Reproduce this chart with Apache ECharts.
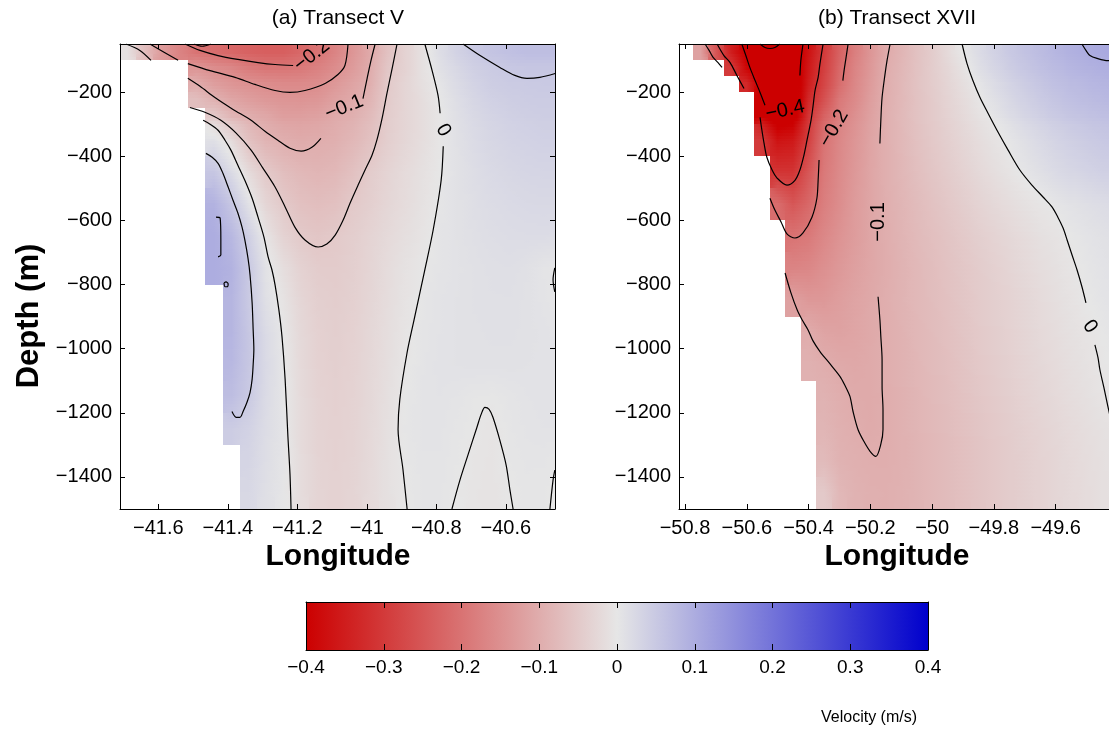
<!DOCTYPE html>
<html><head><meta charset="utf-8">
<script src="https://cdn.jsdelivr.net/npm/echarts@6/dist/echarts.min.js"></script>
<style>html,body{margin:0;padding:0;background:#fff}#c{width:1109px;height:731px}</style>
</head><body><div id="c"></div>
<script>
// ---------------- data ----------------
const titleA = '(a) Transect V';
const titleB = '(b) Transect XVII';
const xName = 'Longitude';
const yName = 'Depth (m)';
const cbName = 'Velocity (m/s)';

const lonTicksA = [-41.6, -41.4, -41.2, -41, -40.8, -40.6];
const lonTicksB = [-50.8, -50.6, -50.4, -50.2, -50, -49.8, -49.6];
const depthTicks = [-1400, -1200, -1000, -800, -600, -400, -200];
const colorTicks = [-0.4, -0.3, -0.2, -0.1, 0, 0.1, 0.2, 0.3, 0.4];

// grid cell centres (longitude) and depth bin edges
const lonA = [-41.69,-41.64,-41.59,-41.54,-41.49,-41.44,-41.39,-41.34,-41.29,-41.24,-41.19,-41.14,-41.09,-41.04,-40.99,-40.94,-40.89,-40.84,-40.79,-40.74,-40.69,-40.64,-40.59,-40.54,-40.49,-40.44];
const lonB = [-50.80,-50.75,-50.70,-50.65,-50.60,-50.55,-50.50,-50.45,-50.40,-50.35,-50.30,-50.25,-50.20,-50.15,-50.10,-50.05,-50.00,-49.95,-49.90,-49.85,-49.80,-49.75,-49.70,-49.65,-49.60,-49.55,-49.50,-49.45,-49.40];
const depthEdges = [-50,-100,-150,-200,-250,-300,-400,-500,-600,-700,-800,-900,-1000,-1100,-1200,-1300,-1400,-1500];

// velocity (m/s), one row per depth bin, null = no data
const velA = [
 [-0.01,-0.07,-0.13,-0.17,-0.2,-0.21,-0.22,-0.23,-0.235,-0.235,-0.22,-0.2,-0.17,-0.14,-0.105,-0.065,-0.035,-0.01,0.015,0.035,0.05,0.06,0.065,0.07,0.07,0.07],
 [null,null,null,null,-0.14,-0.155,-0.165,-0.185,-0.195,-0.195,-0.19,-0.175,-0.155,-0.13,-0.1,-0.055,-0.035,-0.01,0.01,0.025,0.04,0.047,0.053,0.055,0.055,0.055],
 [null,null,null,null,-0.1,-0.125,-0.14,-0.148,-0.155,-0.16,-0.16,-0.155,-0.135,-0.115,-0.095,-0.05,-0.03,-0.012,0.003,0.02,0.033,0.043,0.047,0.048,0.05,0.05],
 [null,null,null,null,-0.07,-0.09,-0.112,-0.125,-0.135,-0.14,-0.142,-0.138,-0.12,-0.105,-0.085,-0.048,-0.03,-0.015,0.0,0.015,0.028,0.037,0.042,0.045,0.046,0.046],
 [null,null,null,null,null,-0.05,-0.085,-0.098,-0.11,-0.125,-0.125,-0.12,-0.105,-0.095,-0.075,-0.045,-0.03,-0.015,-0.002,0.012,0.024,0.032,0.038,0.041,0.043,0.043],
 [null,null,null,null,null,0.01,-0.02,-0.064,-0.088,-0.097,-0.103,-0.1,-0.095,-0.082,-0.064,-0.042,-0.028,-0.015,-0.002,0.01,0.02,0.027,0.032,0.035,0.037,0.037],
 [null,null,null,null,null,0.055,0.02,-0.02,-0.05,-0.07,-0.08,-0.085,-0.08,-0.065,-0.045,-0.032,-0.02,-0.01,0.0,0.008,0.016,0.022,0.026,0.029,0.03,0.03],
 [null,null,null,null,null,0.09,0.055,0.01,-0.03,-0.05,-0.065,-0.07,-0.065,-0.05,-0.04,-0.028,-0.018,-0.008,0.002,0.008,0.014,0.018,0.021,0.023,0.024,0.024],
 [null,null,null,null,null,0.1,0.08,0.04,-0.005,-0.035,-0.05,-0.056,-0.05,-0.042,-0.032,-0.022,-0.013,-0.005,0.004,0.008,0.012,0.015,0.017,0.018,0.018,0.017],
 [null,null,null,null,null,0.1,0.09,0.052,0.008,-0.015,-0.035,-0.045,-0.046,-0.04,-0.03,-0.018,-0.008,-0.001,0.004,0.007,0.01,0.012,0.013,0.01,0.004,0.001],
 [null,null,null,null,null,null,0.085,0.05,0.012,-0.006,-0.028,-0.04,-0.043,-0.038,-0.028,-0.017,-0.006,0.002,0.006,0.008,0.01,0.011,0.011,0.009,0.005,0.002],
 [null,null,null,null,null,null,0.085,0.055,0.02,0.0,-0.024,-0.037,-0.041,-0.036,-0.026,-0.015,-0.004,0.003,0.006,0.008,0.009,0.01,0.01,0.009,0.007,0.005],
 [null,null,null,null,null,null,0.08,0.055,0.022,0.002,-0.022,-0.036,-0.04,-0.035,-0.025,-0.014,-0.002,0.004,0.007,0.008,0.009,0.009,0.009,0.008,0.007,0.006],
 [null,null,null,null,null,null,0.07,0.05,0.02,0.002,-0.02,-0.034,-0.038,-0.034,-0.024,-0.012,0.0,0.005,0.006,0.004,0.001,0.0,0.003,0.006,0.007,0.007],
 [null,null,null,null,null,null,0.045,0.035,0.017,0.003,-0.019,-0.033,-0.037,-0.033,-0.023,-0.011,0.001,0.005,0.005,0.002,-0.001,-0.004,0.002,0.005,0.006,0.006],
 [null,null,null,null,null,null,null,0.03,0.015,0.003,-0.018,-0.032,-0.036,-0.032,-0.022,-0.01,0.0,0.004,0.004,0.001,-0.003,-0.005,0.001,0.003,0.003,0.0],
 [null,null,null,null,null,null,null,0.025,0.012,0.002,-0.017,-0.031,-0.035,-0.031,-0.021,-0.01,-0.001,0.003,0.003,0.0,-0.004,-0.006,-0.001,0.002,0.001,-0.001]
];
const velB = [
 [null,-0.12,-0.25,-0.35,-0.41,-0.44,-0.47,-0.43,-0.37,-0.3,-0.23,-0.18,-0.14,-0.105,-0.085,-0.065,-0.045,-0.022,0.0,0.018,0.035,0.05,0.062,0.073,0.083,0.092,0.1,0.105,0.108],
 [null,null,null,-0.3,-0.39,-0.43,-0.45,-0.44,-0.36,-0.29,-0.22,-0.17,-0.135,-0.1,-0.082,-0.063,-0.045,-0.027,-0.007,0.012,0.028,0.043,0.055,0.066,0.075,0.083,0.09,0.095,0.097],
 [null,null,null,null,-0.33,-0.42,-0.46,-0.45,-0.35,-0.28,-0.21,-0.165,-0.13,-0.098,-0.08,-0.062,-0.046,-0.03,-0.014,0.002,0.018,0.032,0.045,0.056,0.066,0.074,0.08,0.085,0.088],
 [null,null,null,null,null,-0.4,-0.46,-0.46,-0.33,-0.26,-0.19,-0.16,-0.125,-0.097,-0.08,-0.063,-0.048,-0.033,-0.019,-0.004,0.011,0.025,0.037,0.048,0.058,0.066,0.072,0.077,0.08],
 [null,null,null,null,null,-0.4,-0.45,-0.44,-0.31,-0.23,-0.18,-0.15,-0.12,-0.095,-0.078,-0.062,-0.048,-0.035,-0.022,-0.008,0.003,0.017,0.029,0.04,0.049,0.057,0.063,0.067,0.07],
 [null,null,null,null,null,-0.3,-0.37,-0.36,-0.29,-0.2,-0.165,-0.14,-0.115,-0.095,-0.08,-0.065,-0.052,-0.04,-0.028,-0.017,-0.007,0.002,0.013,0.023,0.032,0.04,0.047,0.052,0.055],
 [null,null,null,null,null,null,-0.31,-0.31,-0.25,-0.19,-0.16,-0.135,-0.113,-0.095,-0.082,-0.069,-0.057,-0.046,-0.035,-0.024,-0.014,-0.005,0.003,0.012,0.02,0.027,0.033,0.038,0.04],
 [null,null,null,null,null,null,-0.21,-0.25,-0.22,-0.18,-0.155,-0.13,-0.112,-0.097,-0.085,-0.074,-0.063,-0.053,-0.043,-0.033,-0.024,-0.016,-0.009,-0.003,0.002,0.008,0.013,0.017,0.02],
 [null,null,null,null,null,null,null,-0.2,-0.19,-0.165,-0.145,-0.128,-0.112,-0.098,-0.087,-0.077,-0.068,-0.059,-0.05,-0.041,-0.033,-0.025,-0.018,-0.011,-0.006,0.0,0.005,0.009,0.012],
 [null,null,null,null,null,null,null,-0.17,-0.165,-0.15,-0.135,-0.122,-0.11,-0.1,-0.089,-0.08,-0.071,-0.062,-0.054,-0.046,-0.038,-0.03,-0.023,-0.016,-0.01,-0.004,0.002,0.006,0.009],
 [null,null,null,null,null,null,null,-0.12,-0.135,-0.135,-0.125,-0.115,-0.107,-0.097,-0.088,-0.08,-0.072,-0.064,-0.056,-0.048,-0.041,-0.034,-0.027,-0.02,-0.013,-0.007,-0.001,0.004,0.007],
 [null,null,null,null,null,null,null,null,-0.1,-0.115,-0.118,-0.113,-0.106,-0.098,-0.09,-0.082,-0.074,-0.066,-0.058,-0.05,-0.043,-0.036,-0.029,-0.022,-0.016,-0.01,-0.005,0.0,0.004],
 [null,null,null,null,null,null,null,null,-0.092,-0.098,-0.105,-0.108,-0.104,-0.097,-0.09,-0.083,-0.075,-0.068,-0.06,-0.052,-0.045,-0.038,-0.031,-0.025,-0.019,-0.013,-0.008,-0.002,0.002],
 [null,null,null,null,null,null,null,null,null,-0.09,-0.097,-0.103,-0.105,-0.099,-0.092,-0.085,-0.077,-0.07,-0.062,-0.055,-0.048,-0.041,-0.034,-0.028,-0.022,-0.016,-0.011,-0.005,0.0],
 [null,null,null,null,null,null,null,null,null,-0.085,-0.093,-0.098,-0.103,-0.099,-0.093,-0.086,-0.079,-0.072,-0.065,-0.058,-0.051,-0.044,-0.038,-0.032,-0.026,-0.02,-0.015,-0.01,-0.006],
 [null,null,null,null,null,null,null,null,null,-0.075,-0.09,-0.094,-0.097,-0.097,-0.093,-0.087,-0.08,-0.073,-0.066,-0.059,-0.052,-0.046,-0.04,-0.034,-0.028,-0.022,-0.017,-0.012,-0.008],
 [null,null,null,null,null,null,null,null,null,-0.05,-0.08,-0.09,-0.094,-0.095,-0.092,-0.087,-0.08,-0.073,-0.066,-0.059,-0.052,-0.046,-0.04,-0.034,-0.028,-0.023,-0.018,-0.013,-0.009]
];

// contour lines [lon, depth]
const cA1 = [[-40.723,-50],[-40.674,-86],[-40.617,-123],[-40.574,-148],[-40.539,-157],[-40.502,-154],[-40.458,-142]];
const cA2a = [[-40.833,-50],[-40.812,-133],[-40.795,-210],[-40.789,-266]];
const cA2b = [[-40.780,-369],[-40.786,-475],[-40.809,-630],[-40.833,-754],[-40.864,-910],[-40.884,-1012],[-40.905,-1158],[-40.910,-1252],[-40.896,-1376],[-40.884,-1500]];
const cA3 = [[-41.509,-248],[-41.466,-263],[-41.420,-288],[-41.376,-328],[-41.333,-381],[-41.299,-437],[-41.264,-496],[-41.235,-558],[-41.207,-621],[-41.178,-661],[-41.140,-683],[-41.115,-674],[-41.091,-646],[-41.068,-599],[-41.048,-546],[-41.025,-490],[-41.005,-443],[-40.985,-397],[-40.971,-350],[-40.956,-282],[-40.942,-204],[-40.927,-126],[-40.913,-50]];
const cA4a = [[-41.515,-157],[-41.480,-182],[-41.437,-217],[-41.385,-254],[-41.333,-288],[-41.293,-322],[-41.256,-350],[-41.221,-375],[-41.189,-384],[-41.158,-372],[-41.132,-344]];
const cA4b = [[-41.011,-220],[-40.999,-157],[-40.988,-102],[-40.976,-50]];
const cA5 = [[-41.515,-111],[-41.451,-133],[-41.379,-154],[-41.322,-176],[-41.264,-195],[-41.221,-201],[-41.178,-195],[-41.120,-173],[-41.083,-145],[-41.063,-117],[-41.054,-50]];
const cA6 = [[-41.523,-50],[-41.480,-70],[-41.428,-86],[-41.371,-98],[-41.313,-108],[-41.264,-114],[-41.212,-117]];
const cA7 = [[-41.497,-50],[-41.474,-57],[-41.448,-50]];
const cA8 = [[-41.693,-50],[-41.653,-70],[-41.621,-101]];
const cA9 = [[-41.624,-50],[-41.581,-77],[-41.543,-101]];
const cA11 = [[-41.471,-288],[-41.451,-300],[-41.428,-319],[-41.408,-350],[-41.391,-381],[-41.371,-428],[-41.351,-475],[-41.330,-531],[-41.313,-590],[-41.296,-652],[-41.284,-714],[-41.273,-754],[-41.264,-801],[-41.253,-879],[-41.244,-963],[-41.235,-1096],[-41.227,-1274],[-41.221,-1392],[-41.218,-1500]];
const cA12 = [[-41.463,-391],[-41.445,-403],[-41.428,-422],[-41.414,-453],[-41.399,-496],[-41.385,-537],[-41.371,-577],[-41.359,-621],[-41.351,-661],[-41.342,-717],[-41.336,-770],[-41.330,-857],[-41.327,-941],[-41.325,-1003],[-41.327,-1050],[-41.330,-1096],[-41.336,-1137],[-41.345,-1168],[-41.356,-1196],[-41.365,-1214],[-41.376,-1214],[-41.388,-1196]];
const cA13 = [[-41.434,-590],[-41.422,-593],[-41.420,-661],[-41.420,-708],[-41.428,-714]];
const cA14 = [[-41.411,-795],[-41.405,-792],[-41.399,-798],[-41.402,-807],[-41.408,-807],[-41.411,-795]];
const cA15 = [[-40.755,-1500],[-40.732,-1410],[-40.709,-1332],[-40.683,-1245],[-40.671,-1205],[-40.660,-1183],[-40.648,-1189],[-40.637,-1214],[-40.617,-1286],[-40.599,-1363],[-40.588,-1441],[-40.579,-1500]];
const cA16a = [[-40.459,-748],[-40.464,-785],[-40.459,-823]];
const cA16b = [[-40.473,-1500],[-40.464,-1410],[-40.459,-1379]];

const cB1 = [[-50.735,-50],[-50.722,-70],[-50.709,-92],[-50.693,-108],[-50.680,-123]];
const cB2 = [[-50.696,-50],[-50.674,-86],[-50.654,-108],[-50.632,-148],[-50.609,-189]];
const cB3a = [[-50.616,-50],[-50.603,-86],[-50.590,-123],[-50.573,-164],[-50.557,-201],[-50.541,-241]];
const cB3b = [[-50.428,-148],[-50.425,-102],[-50.418,-50]];
const cB4 = [[-50.557,-279],[-50.551,-319],[-50.544,-360],[-50.535,-403],[-50.518,-443],[-50.502,-468],[-50.470,-490],[-50.444,-475],[-50.428,-443],[-50.415,-397],[-50.405,-350],[-50.392,-288],[-50.386,-248],[-50.379,-195],[-50.369,-154],[-50.363,-111],[-50.353,-50]];
const cB5 = [[-50.557,-50],[-50.541,-61],[-50.525,-64],[-50.509,-61],[-50.493,-50]];
const cB6a = [[-50.272,-50],[-50.279,-95],[-50.285,-133],[-50.289,-164]];
const cB6b = [[-50.366,-412],[-50.369,-475],[-50.373,-531],[-50.389,-590],[-50.418,-639],[-50.444,-655],[-50.470,-642],[-50.489,-605],[-50.509,-568],[-50.525,-531]];
const cB7a = [[-50.136,-50],[-50.146,-102],[-50.153,-148],[-50.162,-217],[-50.166,-288],[-50.169,-360]];
const cB7b = [[-50.175,-838],[-50.169,-910],[-50.166,-963],[-50.162,-1034],[-50.162,-1118],[-50.159,-1190],[-50.159,-1252],[-50.166,-1298],[-50.182,-1336],[-50.201,-1320],[-50.221,-1289],[-50.240,-1252],[-50.256,-1196],[-50.266,-1149],[-50.282,-1115],[-50.298,-1087],[-50.331,-1047],[-50.363,-1009],[-50.386,-975],[-50.402,-941],[-50.421,-910],[-50.437,-879],[-50.457,-826],[-50.476,-764]];
const cB8a = [[-49.903,-50],[-49.887,-111],[-49.868,-164],[-49.845,-217],[-49.819,-266],[-49.790,-319],[-49.754,-381],[-49.716,-443],[-49.677,-490],[-49.641,-527],[-49.612,-558],[-49.593,-590],[-49.576,-624],[-49.563,-661],[-49.547,-708],[-49.531,-754],[-49.515,-807],[-49.502,-857]];
const cB8b = [[-49.473,-988],[-49.463,-1028],[-49.457,-1065],[-49.444,-1121],[-49.431,-1180],[-49.418,-1236]];
const cB9 = [[-49.515,-50],[-49.502,-70],[-49.489,-86],[-49.466,-95],[-49.431,-102],[-49.408,-102]];

const contoursA = [cA1,cA2a,cA2b,cA3,cA4a,cA4b,cA5,cA6,cA7,cA8,cA9,cA11,cA12,cA13,cA14,cA15,cA16a,cA16b];
const contoursB = [cB1,cB2,cB3a,cB3b,cB4,cB5,cB6a,cB6b,cB7a,cB7b,cB8a,cB8b,cB9];

// contour labels [lon, depth, text]
const labelsA = [[-41.158,-86,'\u22120.2'],[-41.065,-248,'\u22120.1'],[-40.780,-319,'0']];
const labelsB = [[-50.476,-257,'\u22120.4'],[-50.318,-313,'\u22120.2'],[-50.175,-605,'\u22120.1'],[-49.489,-931,'0']];

// ---------------- styles / layout ----------------
const labelRotA = [38, 22, -60];
const labelRotB = [12, 60, 90, -55];
const FONT = '"Liberation Sans", Arial, Helvetica, sans-serif';
const RED = [204, 0, 0], GRAY = [230, 230, 230], BLUE = [0, 0, 204];
const CMAX = 0.4;
const X_A = [-41.7102, -40.4584];
const X_B = [-50.8194, -49.4112];
const Y_R = [-1500, -50];

function rgb(a) { return 'rgb(' + a.map(function (x) { return Math.round(x); }).join(',') + ')'; }
function colorOf(v) {
  let f = Math.max(-1, Math.min(1, v / CMAX));
  const end = f < 0 ? RED : BLUE; f = Math.abs(f);
  return rgb([0, 1, 2].map(function (i) { return GRAY[i] + (end[i] - GRAY[i]) * f; }));
}
function fmt(v) { return String(Math.round(v * 1000) / 1000).replace('-', '\u2212'); }

function buildCells(lons, vel) {
  const out = [];
  const half = (lons[1] - lons[0]) / 2;
  for (let r = 0; r < vel.length; r++) {
    const top = depthEdges[r], bot = depthEdges[r + 1];
    vel[r].forEach(function (v, c) {
      if (v === null || v === undefined) return;
      out.push([lons[c] - half, lons[c] + half, top, bot, v, r, c]);
    });
  }
  return out;
}

// interpolated shading within each cell (like MATLAB "shading interp")
function makeCellRenderer(vel) {
  function g(r, c) { const row = vel[r]; if (!row) return null; const v = row[c]; return (v === null || v === undefined) ? null : v; }
  return function (params, api) {
    const r = api.value(5), c = api.value(6), v = api.value(4);
    function nb(dr, dc) { const x = g(r + dr, c + dc); return x === null ? v : x; }
    const L = nb(0, -1), R = nb(0, 1), U = nb(-1, 0), D = nb(1, 0);
    const n = [
      [(v + L + U + nb(-1, -1)) / 4, (v + U) / 2, (v + R + U + nb(-1, 1)) / 4],
      [(v + L) / 2, v, (v + R) / 2],
      [(v + L + D + nb(1, -1)) / 4, (v + D) / 2, (v + R + D + nb(1, 1)) / 4]
    ];
    const a = api.coord([api.value(0), api.value(2)]);
    const b = api.coord([api.value(1), api.value(3)]);
    const x0 = Math.round(Math.min(a[0], b[0])), x1 = Math.round(Math.max(a[0], b[0]));
    const y0 = Math.round(Math.min(a[1], b[1])), y1 = Math.round(Math.max(a[1], b[1]));
    const bands = Math.max(1, Math.round((y1 - y0) / 3));
    const children = [];
    for (let k = 0; k < bands; k++) {
      const ya = Math.round(y0 + (y1 - y0) * k / bands), yb = Math.round(y0 + (y1 - y0) * (k + 1) / bands);
      const fy = (k + 0.5) / bands;
      let vals;
      if (fy <= 0.5) { const t = fy / 0.5; vals = [0, 1, 2].map(function (j) { return n[0][j] * (1 - t) + n[1][j] * t; }); }
      else { const t = (fy - 0.5) / 0.5; vals = [0, 1, 2].map(function (j) { return n[1][j] * (1 - t) + n[2][j] * t; }); }
      const stops = [];
      for (let s = 0; s <= 4; s++) {
        const fx = s / 4;
        const val = fx <= 0.5 ? vals[0] + (vals[1] - vals[0]) * (fx / 0.5) : vals[1] + (vals[2] - vals[1]) * ((fx - 0.5) / 0.5);
        stops.push({ offset: fx, color: colorOf(val) });
      }
      children.push({ type: 'rect', shape: { x: x0, y: ya, width: x1 - x0, height: yb - ya },
        style: { fill: new echarts.graphic.LinearGradient(0, 0, 1, 0, stops) } });
    }
    return { type: 'group', children: children };
  };
}

function barItem(params, api) {
  const a = api.coord([api.value(0), 0]);
  const b = api.coord([api.value(1), 1]);
  return {
    type: 'rect',
    shape: { x: a[0], y: b[1], width: b[0] - a[0], height: a[1] - b[1] },
    style: { fill: new echarts.graphic.LinearGradient(0, 0, 1, 0, [
      { offset: 0, color: rgb(RED) }, { offset: 0.5, color: rgb(GRAY) }, { offset: 1, color: rgb(BLUE) }]) }
  };
}

function makeLabelRenderer(rots) {
  return function (params, api) {
    const p = api.coord([api.value(0), api.value(1)]);
    return { type: 'text', x: p[0], y: p[1], rotation: rots[params.dataIndex] * Math.PI / 180,
      style: { text: api.value(2), font: '20px ' + FONT, fill: '#000',
        textAlign: 'center', textVerticalAlign: 'middle', align: 'center', verticalAlign: 'middle' } };
  };
}

function axisDef(grid, pos, labels, ext, ticks, tickLen, fs, margin) {
  const d = {
    type: 'value', gridIndex: grid, position: pos, min: ext[0], max: ext[1], z: 10,
    axisLine: { show: true, onZero: false, lineStyle: { color: '#000', width: 1 } },
    axisTick: { show: !!ticks, inside: true, length: tickLen, lineStyle: { color: '#000', width: 1 } },
    axisLabel: { show: labels, formatter: fmt, color: '#000', fontSize: fs, fontFamily: FONT, margin: margin },
    splitLine: { show: false }
  };
  if (ticks) { d.axisTick.customValues = ticks; d.axisLabel.customValues = ticks; }
  return d;
}

const gridBase = { containLabel: false, outerBoundsMode: 'none' };
const CB = [colorTicks[0], colorTicks[colorTicks.length - 1]];
const option = {
  animation: false,
  backgroundColor: '#fff',
  textStyle: { fontFamily: FONT },
  grid: [
    Object.assign({ left: 120, top: 44, width: 435, height: 465 }, gridBase),
    Object.assign({ left: 679, top: 44, width: 435, height: 465 }, gridBase),
    Object.assign({ left: 306, top: 602, width: 622, height: 48 }, gridBase)
  ],
  xAxis: [
    axisDef(0, 'bottom', true, X_A, lonTicksA, 5, 20, 9),
    axisDef(0, 'top', false, X_A, lonTicksA, 5, 20, 9),
    axisDef(1, 'bottom', true, X_B, lonTicksB, 5, 20, 9),
    axisDef(1, 'top', false, X_B, lonTicksB, 5, 20, 9),
    axisDef(2, 'bottom', true, CB, colorTicks, 6, 19, 8),
    axisDef(2, 'top', false, CB, colorTicks, 6, 19, 8)
  ],
  yAxis: [
    axisDef(0, 'left', true, Y_R, depthTicks, 5, 20, 8),
    axisDef(0, 'right', false, Y_R, depthTicks, 5, 20, 8),
    axisDef(1, 'left', true, Y_R, depthTicks, 5, 20, 8),
    axisDef(1, 'right', false, Y_R, depthTicks, 5, 20, 8),
    axisDef(2, 'left', false, [0, 1], null, 0, 12, 8),
    axisDef(2, 'right', false, [0, 1], null, 0, 12, 8)
  ],
  graphic: [
    { type: 'text', x: 338, y: 18, style: { text: titleA, font: '21px ' + FONT, fill: '#000', textAlign: 'center', textVerticalAlign: 'middle', align: 'center', verticalAlign: 'middle' } },
    { type: 'text', x: 897, y: 18, style: { text: titleB, font: '21px ' + FONT, fill: '#000', textAlign: 'center', textVerticalAlign: 'middle', align: 'center', verticalAlign: 'middle' } },
    { type: 'text', x: 338, y: 557, style: { text: xName, font: 'bold 30px ' + FONT, fill: '#000', textAlign: 'center', textVerticalAlign: 'middle', align: 'center', verticalAlign: 'middle' } },
    { type: 'text', x: 897, y: 557, style: { text: xName, font: 'bold 30px ' + FONT, fill: '#000', textAlign: 'center', textVerticalAlign: 'middle', align: 'center', verticalAlign: 'middle' } },
    { type: 'text', x: 29, y: 316, rotation: Math.PI / 2, style: { text: yName, font: 'bold 31px ' + FONT, fill: '#000', textAlign: 'center', textVerticalAlign: 'middle', align: 'center', verticalAlign: 'middle' } },
    { type: 'text', x: 869, y: 718, style: { text: cbName, font: '16px ' + FONT, fill: '#000', textAlign: 'center', textVerticalAlign: 'middle', align: 'center', verticalAlign: 'middle' } }
  ],
  series: []
};

option.series.push({ type: 'custom', xAxisIndex: 0, yAxisIndex: 0, data: buildCells(lonA, velA), renderItem: makeCellRenderer(velA), clip: true, z: 1, silent: true, encode: { x: [0, 1], y: [2, 3] } });
option.series.push({ type: 'custom', xAxisIndex: 2, yAxisIndex: 2, data: buildCells(lonB, velB), renderItem: makeCellRenderer(velB), clip: true, z: 1, silent: true, encode: { x: [0, 1], y: [2, 3] } });
option.series.push({ type: 'custom', xAxisIndex: 4, yAxisIndex: 4, data: [CB], renderItem: barItem, z: 1, silent: true, encode: { x: [0, 1] } });

function addContours(list, xi) {
  list.forEach(function (pts) {
    option.series.push({ type: 'line', xAxisIndex: xi, yAxisIndex: xi, data: pts, showSymbol: false, symbol: 'none', smooth: 0.3, silent: true, z: 3, clip: true,
      lineStyle: { color: '#000', width: 1.2 } });
  });
}
addContours(contoursA, 0);
addContours(contoursB, 2);

function addLabels(list, rots, xi) {
  option.series.push({
    type: 'custom', xAxisIndex: xi, yAxisIndex: xi, silent: true, z: 4, clip: true,
    dimensions: ['lon', 'depth', { name: 'text', type: 'ordinal' }],
    data: list, renderItem: makeLabelRenderer(rots), encode: { x: 0, y: 1 }
  });
}
addLabels(labelsA, labelRotA, 0);
addLabels(labelsB, labelRotB, 2);

const chart = echarts.init(document.getElementById('c'), null, { renderer: 'canvas' });
chart.setOption(option);
</script></body></html>
